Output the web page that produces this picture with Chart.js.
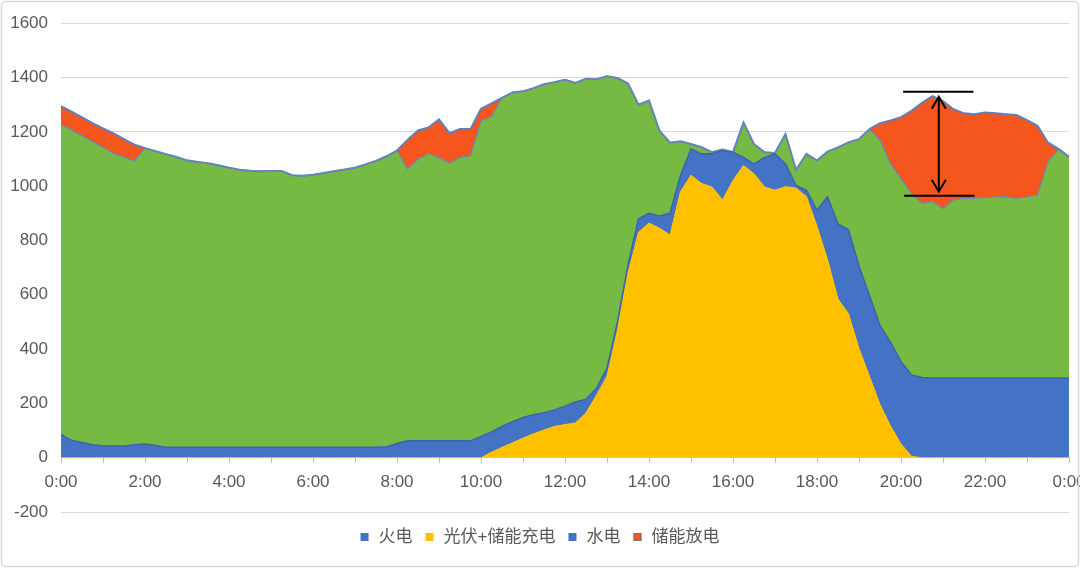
<!DOCTYPE html>
<html>
<head>
<meta charset="utf-8">
<script src="https://cdn.jsdelivr.net/npm/chart.js"></script>
<style>
  html, body { margin: 0; padding: 0; background: #fff; }
  #wrap { width: 1080px; height: 568px; position: relative; }
</style>
</head>
<body>
<div id="wrap"><canvas id="gridChart"></canvas></div>
<script>
// 15-minute points, 0:00 .. 24:00
const timeLabels = [];
for (let i = 0; i <= 96; i++) {
    const h = Math.floor(i / 4) % 24;
    const m = (i % 4) * 15;
    timeLabels.push(h + ':' + (m === 0 ? '00' : m));
}

const yTicks = [-200, 0, 200, 400, 600, 800, 1000, 1200, 1400, 1600];

// stacked from the bottom up
const solar = [
    0, 0, 0, 0, 0, 0, 0, 0, 0, 0, 0, 0, 0, 0, 0, 0, 0, 0, 0, 0,
    0, 0, 0, 0, 0, 0, 0, 0, 0, 0, 0, 0, 0, 0, 0, 0, 0, 0, 0, 0,
    0, 20, 38, 55, 72, 88, 102, 115, 122, 128, 165, 230, 300, 470, 680, 830,
    864, 845, 820, 980, 1040, 1010, 997, 949, 1021, 1076, 1046, 997, 985, 998,
    993, 961, 852, 730, 584, 530, 402, 299, 196, 117, 50, 5,
    0, 0, 0, 0, 0, 0, 0, 0, 0, 0, 0, 0, 0, 0, 0
];
const thermal = [
    86, 64, 56, 48, 44, 43, 43, 48, 50, 45,
    38, 38, 38, 38, 38, 38, 38, 38, 38, 38, 38, 38, 38, 38, 38, 38, 38, 38, 38, 38, 38,
    40, 52, 62, 62, 62, 62, 62, 62, 62,
    78, 75, 77, 78, 76, 70, 64, 61, 68, 77, 50, 26, 30, 30, 30, 50,
    36, 45, 80, 60, 97, 109, 122, 182, 104, 30, 36, 109, 134, 84,
    10, 24, 60, 231, 277, 309, 304, 298, 291, 309, 304, 300,
    295, 293, 293, 293, 293, 293, 293, 293, 293, 293, 293, 293, 293, 293, 293
];
const hydro = [
    1142, 1143, 1130, 1116, 1099, 1078, 1064, 1044, 1090, 1084,
    1080, 1069, 1057, 1051, 1046, 1039, 1030, 1022, 1019, 1017,
    1018, 1018, 1002, 1000, 1004, 1010, 1017, 1023, 1030, 1042,
    1055, 1070, 1079, 1002, 1038, 1058, 1043, 1023, 1044, 1050,
    1162, 1161, 1210, 1212, 1201, 1203, 1209, 1207, 1202, 1175,
    1180, 1138, 1075, 898, 668, 420, 415, 314, 260, 125,
    18, 24, 6, 4, 0, 128, 73, 19, 3, 110,
    57, 134, 182, 166, 282, 322, 467, 613, 683, 656,
    674, 668, 642, 650, 625, 656, 662, 662, 665, 667,
    668, 662, 667, 674, 797, 844, 815
];
const storage = [
    67, 67, 67, 68, 70, 73, 66, 61,
    0, 0, 0, 0, 0, 0, 0, 0, 0, 0, 0, 0, 0, 0, 0, 0, 0, 0, 0, 0, 0, 0, 0, 0, 0,
    106, 105, 96, 141, 110, 104, 98, 45, 49,
    0, 0, 0, 0, 0, 0, 0, 0, 0, 0, 0, 0, 0, 0, 0, 0, 0, 0,
    0, 0, 0, 0, 0, 0, 0, 0, 0, 0, 0, 0, 0, 0, 0, 0, 0, 0,
    62, 160, 226, 304, 370, 388, 395, 334, 313, 310, 313, 308, 304, 307, 283, 255, 70,
    0, 0
];

// legend as printed on the original picture
const legendNames = ['火电', '光伏+储能充电', '水电', '储能放电'];
const legendColors = ['#4472C4', '#FFC000', '#4472C4', '#F4561D'];

// double arrow over the evening discharge (x in point index, y in MW)
const arrowMark = { at: 83.6, from: 80.2, to: 86.9, top: 1348, bottom: 965 };

const FONT = "'Liberation Sans', 'Noto Sans CJK SC', sans-serif";

const framePlugin = {
    id: 'frame',
    beforeDraw(chart) {
        const ctx = chart.ctx;
        ctx.save();
        ctx.fillStyle = '#fff';
        ctx.fillRect(0, 0, chart.width, chart.height);
        ctx.restore();
    },
    afterDraw(chart) {
        const ctx = chart.ctx;
        ctx.save();
        ctx.strokeStyle = '#d9d9d9';
        ctx.lineWidth = 1.5;
        ctx.beginPath();
        ctx.roundRect(1.5, 1.5, chart.width - 3, chart.height - 3, 4);
        ctx.stroke();

        // legend
        ctx.font = '17px ' + FONT;
        ctx.textBaseline = 'middle';
        const box = 8, gapBox = 10, gapItem = 13;
        const widths = legendNames.map(n => ctx.measureText(n).width);
        let total = widths.reduce((a, w) => a + box + gapBox + w, 0) + gapItem * (legendNames.length - 1);
        let x = (chart.width - total) / 2;
        const yc = 537;
        legendNames.forEach((name, i) => {
            ctx.fillStyle = legendColors[i];
            ctx.fillRect(x, yc - box / 2, box, box);
            if (i === 3) {
                ctx.strokeStyle = '#7a7a7a';
                ctx.lineWidth = 1;
                ctx.strokeRect(x + 0.5, yc - box / 2 + 0.5, box - 1, box - 1);
            }
            x += box + gapBox;
            ctx.fillStyle = '#595959';
            ctx.fillText(name, x, yc);
            x += widths[i] + gapItem;
        });
        ctx.restore();
    }
};

const arrowPlugin = {
    id: 'arrowMark',
    afterDatasetsDraw(chart) {
        const { ctx, scales: { x, y } } = chart;
        const xm = x.getPixelForValue(arrowMark.at);
        const x1 = x.getPixelForValue(arrowMark.from);
        const x2 = x.getPixelForValue(arrowMark.to);
        const yt = y.getPixelForValue(arrowMark.top);
        const yb = y.getPixelForValue(arrowMark.bottom);
        ctx.save();
        ctx.strokeStyle = '#000';
        ctx.lineWidth = 2;
        ctx.beginPath();
        ctx.moveTo(x1, yt); ctx.lineTo(x2, yt);
        ctx.moveTo(x1 + 1, yb); ctx.lineTo(x2 + 1, yb);
        const t = yt + 5, b = yb - 4;
        ctx.moveTo(xm, t); ctx.lineTo(xm, b);
        ctx.moveTo(xm - 7, t + 12); ctx.lineTo(xm, t); ctx.lineTo(xm + 7, t + 12);
        ctx.moveTo(xm - 7, b - 12); ctx.lineTo(xm, b); ctx.lineTo(xm + 7, b - 12);
        ctx.stroke();
        ctx.restore();
    }
};

function areaSet(label, data, fillColor, lineColor, width, fill) {
    return {
        label: label,
        data: data,
        backgroundColor: fillColor,
        borderColor: lineColor,
        borderWidth: width,
        pointRadius: 0,
        pointHoverRadius: 0,
        tension: 0,
        fill: fill
    };
}

new Chart(document.getElementById('gridChart'), {
    type: 'line',
    data: {
        labels: timeLabels,
        datasets: [
            areaSet('光伏+储能充电', solar, '#FFC000', '#FFC000', 1, 'origin'),
            areaSet('火电', thermal, '#4472C4', '#3D63AC', 1.5, '-1'),
            areaSet('水电', hydro, '#76B943', '#6B86B6', 1.2, '-1'),
            areaSet('储能放电', storage, '#F4561D', '#5F80B8', 2, '-1')
        ]
    },
    options: {
        responsive: true,
        maintainAspectRatio: false,
        animation: false,
        layout: { padding: { top: 18, right: 11, bottom: 56, left: 0 } },
        scales: {
            x: {
                position: { y: 0 },
                offset: false,
                grid: {
                    drawOnChartArea: false,
                    drawTicks: true,
                    tickLength: 5,
                    color: ctx => (ctx.index % 4 === 0 ? '#bfbfbf' : 'rgba(0,0,0,0)'),
                    tickColor: ctx => (ctx.index % 4 === 0 ? '#bfbfbf' : 'rgba(0,0,0,0)')
                },
                border: { display: true, color: '#d9d9d9' },
                ticks: {
                    autoSkip: false,
                    maxRotation: 0,
                    padding: 9,
                    color: '#595959',
                    font: { family: FONT, size: 17 },
                    callback: (v, i) => (i % 8 === 0 ? timeLabels[i] : '')
                },
                afterFit: scale => {
                    scale.height = 0;
                    scale.paddingLeft = 0;
                    scale.paddingRight = 0;
                }
            },
            y: {
                stacked: true,
                min: yTicks[0],
                max: yTicks[yTicks.length - 1],
                afterBuildTicks: scale => {
                    scale.ticks = yTicks.map(v => ({ value: v }));
                },
                grid: { color: '#d9d9d9', lineWidth: 1, drawTicks: false },
                border: { display: false },
                ticks: {
                    padding: 13,
                    color: '#595959',
                    font: { family: FONT, size: 17 },
                    callback: v => String(v)
                },
                afterFit: scale => {
                    scale.width = 61;
                }
            }
        },
        plugins: {
            legend: { display: false },
            tooltip: { enabled: false },
            filler: { drawTime: 'beforeDatasetsDraw' }
        }
    },
    plugins: [framePlugin, arrowPlugin]
});
</script>
</body>
</html>
